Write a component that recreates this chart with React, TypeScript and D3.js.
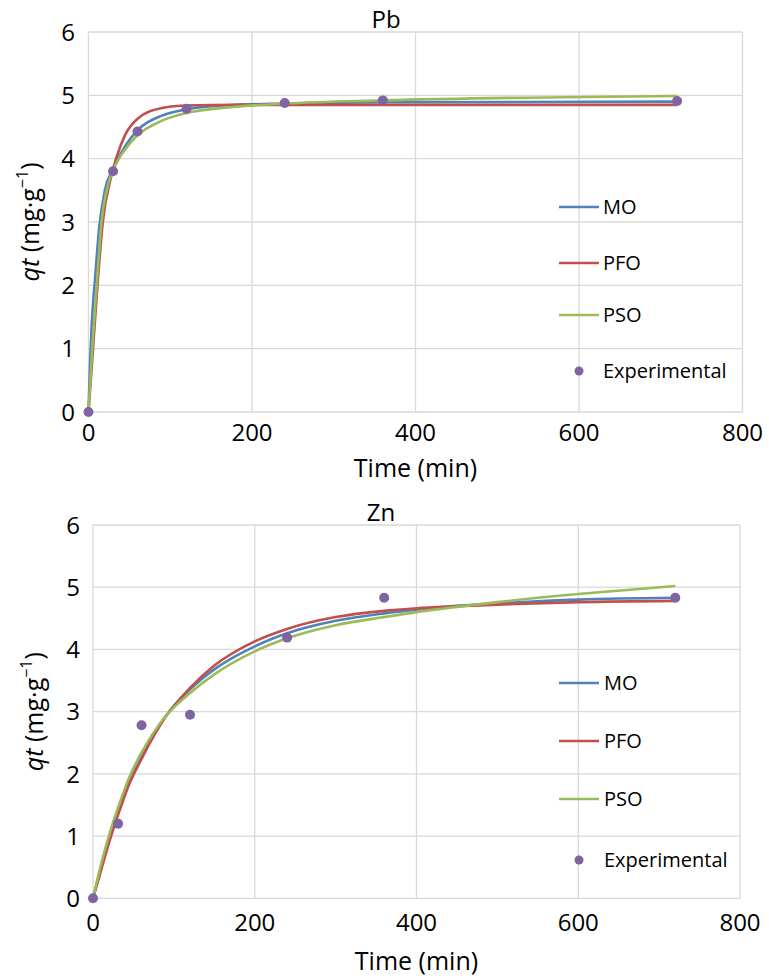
import React from "react";
import * as d3 from "d3";

type Pt = [number, number];

const xTicks = [0, 200, 400, 600, 800];
const yTicks = [0, 1, 2, 3, 4, 5, 6];
const seriesNames = ["MO", "PFO", "PSO"];
const seriesColors = ["#4F81BD", "#C0504D", "#9BBB59"];
const expColor = "#8064A2";

// Pb panel
const pbExperimental: Pt[] = [[0, 0], [30, 3.8], [60, 4.43], [120, 4.79], [240, 4.88], [360, 4.92], [720, 4.91]];
const pbMO: Pt[] = [[0, 0], [2, 0.8], [4, 1.4], [8, 2.1], [13, 2.9], [20, 3.5], [30, 3.84], [45, 4.2], [60, 4.45], [90, 4.68], [120, 4.78], [180, 4.85], [240, 4.87], [360, 4.89], [720, 4.9]];
const pbPFO: Pt[] = [[0, 0], [5, 0.9], [11, 2.0], [17.5, 3.0], [27, 3.68], [35, 4.05], [45, 4.38], [60, 4.63], [90, 4.8], [120, 4.84], [180, 4.85], [720, 4.85]];
const pbPSO: Pt[] = [[0, 0], [4.5, 1.0], [10, 2.0], [16, 3.0], [25.5, 3.66], [35, 3.95], [45, 4.15], [60, 4.37], [90, 4.6], [120, 4.72], [180, 4.82], [240, 4.87], [360, 4.92], [720, 4.99]];

// Zn panel
const znExperimental: Pt[] = [[0, 0], [31, 1.2], [60, 2.78], [120, 2.95], [240, 4.19], [360, 4.83], [720, 4.83]];
const znMO: Pt[] = [[0, 0], [10, 0.5], [20, 0.97], [30, 1.38], [45, 1.9], [60, 2.3], [90, 2.93], [120, 3.36], [150, 3.68], [200, 4.05], [240, 4.26], [300, 4.46], [360, 4.58], [400, 4.64], [460, 4.71], [500, 4.74], [600, 4.8], [720, 4.83]];
const znPFO: Pt[] = [[0, 0], [10, 0.45], [20, 0.9], [30, 1.3], [45, 1.84], [60, 2.24], [90, 2.92], [120, 3.38], [150, 3.74], [200, 4.13], [240, 4.33], [300, 4.52], [360, 4.62], [400, 4.66], [500, 4.72], [600, 4.76], [720, 4.78]];
const znPSO: Pt[] = [[0, 0], [10, 0.55], [20, 1.02], [30, 1.42], [45, 1.95], [60, 2.34], [90, 2.93], [120, 3.3], [150, 3.6], [200, 3.97], [240, 4.18], [300, 4.39], [360, 4.52], [400, 4.6], [460, 4.7], [500, 4.76], [600, 4.89], [720, 5.02]];

const FONT = "'Open Sans', 'Liberation Sans', sans-serif";
const GRID = "#D9D9D9";

interface PanelProps {
  title: string;
  titleX: number;
  titleY: number;
  left: number;
  right: number;
  top: number;
  bottom: number;
  exp: Pt[];
  curves: Pt[][];
  legendLineX: [number, number];
  legendTextX: number;
  legendYs: number[];
  expLegendY: number;
  tickLabelY: number;
  xTitleY: number;
  yTitleX: number;
  yTickRight: number;
}

function Panel(p: PanelProps) {
  const x = d3.scaleLinear().domain([0, 800]).range([p.left, p.right]);
  const y = d3.scaleLinear().domain([0, 6]).range([p.bottom, p.top]);
  const line = d3
    .line<Pt>()
    .x((d) => x(d[0]))
    .y((d) => y(d[1]))
    .curve(d3.curveMonotoneX);
  const midY = (p.top + p.bottom) / 2;
  const midX = (p.left + p.right) / 2;
  return (
    <g>
      {yTicks.map((t) => (
        <line key={"gy" + t} x1={p.left} x2={p.right} y1={y(t)} y2={y(t)} stroke={GRID} strokeWidth={1.3} />
      ))}
      {xTicks.map((t) => (
        <line key={"gx" + t} x1={x(t)} x2={x(t)} y1={p.top} y2={p.bottom} stroke={GRID} strokeWidth={1.3} />
      ))}
      {yTicks.map((t) => (
        <text key={"ty" + t} x={p.yTickRight} y={y(t)} dy="0.36em" textAnchor="end" fontSize={24} fontFamily={FONT} fill="#000">
          {t}
        </text>
      ))}
      {xTicks.map((t) => (
        <text key={"tx" + t} x={x(t)} y={p.tickLabelY} dy="0.36em" textAnchor="middle" fontSize={24} fontFamily={FONT} fill="#000">
          {t}
        </text>
      ))}
      <text x={midX} y={p.xTitleY} dy="0.36em" textAnchor="middle" fontSize={25} fontFamily={FONT} fill="#000">
        Time (min)
      </text>
      <text
        transform={`translate(${p.yTitleX},${midY}) rotate(-90)`}
        dy="0.36em"
        textAnchor="middle"
        fontSize={25}
        fontFamily={FONT}
        fill="#000"
      >
        <tspan fontStyle="italic">qt</tspan>
        <tspan> (mg·g</tspan>
        <tspan fontSize={16} dy="-0.7em">−1</tspan>
        <tspan dy="0.45em">)</tspan>
      </text>
      <text x={p.titleX} y={p.titleY} textAnchor="middle" fontSize={24} fontFamily={FONT} fill="#000">
        {p.title}
      </text>
      {p.curves.map((c, i) => (
        <path key={"c" + i} d={line(c) || ""} fill="none" stroke={seriesColors[i]} strokeWidth={2.6} />
      ))}
      {p.exp.map((d, i) => (
        <circle key={"e" + i} cx={x(d[0])} cy={y(d[1])} r={5} fill={expColor} />
      ))}
      {seriesNames.map((n, i) => (
        <g key={"lg" + n}>
          <line x1={p.legendLineX[0]} x2={p.legendLineX[1]} y1={p.legendYs[i]} y2={p.legendYs[i]} stroke={seriesColors[i]} strokeWidth={2.6} />
          <text x={p.legendTextX} y={p.legendYs[i]} dy="0.36em" fontSize={20} fontFamily={FONT} fill="#000">
            {n}
          </text>
        </g>
      ))}
      <circle cx={(p.legendLineX[0] + p.legendLineX[1]) / 2} cy={p.expLegendY} r={4.5} fill={expColor} />
      <text x={p.legendTextX} y={p.expLegendY} dy="0.36em" fontSize={20} fontFamily={FONT} fill="#000">
        Experimental
      </text>
    </g>
  );
}

export default function App() {
  return (
    <svg width={769} height={976} style={{ position: "absolute", left: 0, top: 0, background: "#fff" }}>
      <rect x={0} y={0} width={769} height={976} fill="#fff" />
      <Panel
        title="Pb"
        titleX={386}
        titleY={28}
        left={88.5}
        right={742.5}
        top={32}
        bottom={412}
        exp={pbExperimental}
        curves={[pbMO, pbPFO, pbPSO]}
        legendLineX={[559, 599]}
        legendTextX={603}
        legendYs={[207, 263, 315]}
        expLegendY={371}
        tickLabelY={432}
        xTitleY={468}
        yTitleX={30}
        yTickRight={75}
      />
      <Panel
        title="Zn"
        titleX={381}
        titleY={521}
        left={93}
        right={740}
        top={525}
        bottom={898.3}
        exp={znExperimental}
        curves={[znMO, znPFO, znPSO]}
        legendLineX={[559, 599]}
        legendTextX={604}
        legendYs={[683, 741, 799]}
        expLegendY={860}
        tickLabelY={922}
        xTitleY={961}
        yTitleX={34}
        yTickRight={80}
      />
    </svg>
  );
}
